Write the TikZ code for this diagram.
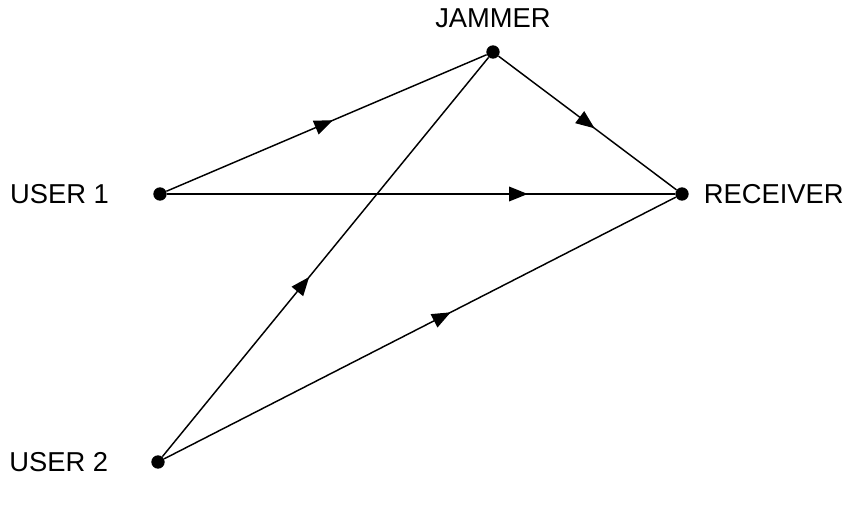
\documentclass[tikz,border=0pt]{standalone}
\usepackage{fontspec}
\setmainfont{Liberation Sans}
\usetikzlibrary{arrows.meta, positioning, decorations.markings}

\begin{document}
\begin{tikzpicture}[
    x=0.75pt, y=-0.75pt,
    dot/.style={circle, fill=black, inner sep=0pt, minimum size=10pt},
    lbl/.style={inner sep=0pt, font=\fontsize{20.5}{24}\selectfont},
    link/.style={line width=1.1pt, postaction={decorate},
        decoration={markings, mark=at position #1 with {\arrow{Triangle[length=14pt,width=11pt]}}}}
]
    \useasboundingbox (0,0) rectangle (847,506);
    % Stations
    \node[dot] (user1) at (160,194) {};
    \node[dot] (jammer) at (493,52) {};
    \node[dot] (receiver) at (682,194) {};
    \node[dot] (user2) at (158,462) {};
    % Labels
    \node[lbl, left=33pt of user1] {USER 1};
    \node[lbl, left=32pt of user2] {USER 2};
    \node[lbl, above=13pt of jammer] {JAMMER};
    \node[lbl, right=11pt of receiver] {RECEIVER};
    % Links
    \draw[link=0.52] (user1) -- (jammer);
    \draw[link=0.71] (user1) -- (receiver);
    \draw[link=0.54] (jammer) -- (receiver);
    \draw[link=0.45] (user2) -- (jammer);
    \draw[link=0.56] (user2) -- (receiver);
\end{tikzpicture}
\end{document}
